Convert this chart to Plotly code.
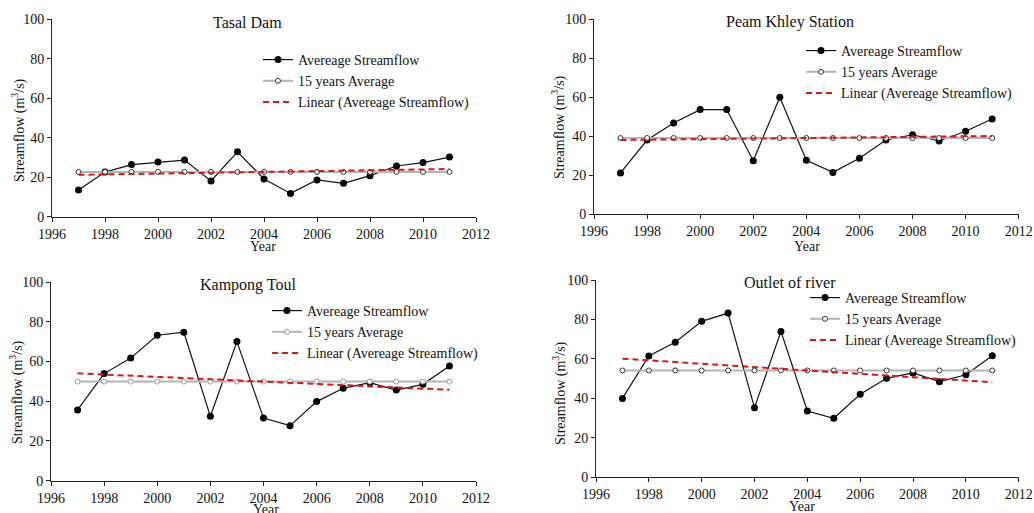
import numpy as np
import plotly.graph_objects as go

# Annual mean streamflow (m³/s), 1997–2011
years = list(range(1997, 2012))

tasal_dam = [13.5, 22.6, 26.4, 27.7, 28.7, 18.1, 32.9, 19.1, 11.8, 18.6, 16.9, 20.8, 25.7, 27.4, 30.2]
peam_khley = [21.2, 38.1, 46.8, 53.7, 53.7, 27.5, 60.0, 27.7, 21.5, 28.7, 38.1, 40.8, 37.6, 42.6, 48.9]
kampong_toul = [35.6, 53.9, 61.7, 73.2, 74.7, 32.4, 70.0, 31.5, 27.7, 39.8, 46.5, 49.3, 45.6, 48.5, 57.7]
outlet_river = [39.9, 61.4, 68.4, 79.0, 83.2, 35.2, 73.9, 33.5, 29.8, 42.0, 50.1, 52.8, 48.4, 51.9, 61.6]

station_names = ["Tasal Dam", "Peam Khley Station", "Kampong Toul", "Outlet of river"]
series_names = ["Avereage Streamflow", "15 years Average", "Linear (Avereage Streamflow)"]
x_ticks = [1996, 1998, 2000, 2002, 2004, 2006, 2008, 2010, 2012]
y_ticks = [0, 20, 40, 60, 80, 100]

W, H = 1034, 513
FONT = "Liberation Serif, Times New Roman, serif"


def fx(px):
    return px / W


def fy(py):
    return 1 - py / H


# panel layout in pixels: plot box (x0, x1, ytop, ybottom), title centre, legend anchor,
# y-title centre, x-title centre, average-marker edge colour
panels = [
    dict(data=tasal_dam, box=(52, 476, 19.3, 216.7), title=(247.5, 22),
         legend=(258, 44), ytitle=(18, 130), xtitle=(263, 247), avg_edge="#333333"),
    dict(data=peam_khley, box=(594, 1018.7, 19.3, 214.3), title=(790, 22),
         legend=(801, 35), ytitle=(559, 127), xtitle=(807, 247), avg_edge="#333333"),
    dict(data=kampong_toul, box=(51, 476, 282, 480.7), title=(247.5, 285),
         legend=(267, 295), ytitle=(16, 392), xtitle=(266, 509), avg_edge="#9a9a9a"),
    dict(data=outlet_river, box=(596, 1018.7, 280, 477), title=(790, 282),
         legend=(805, 282), ytitle=(559, 393), xtitle=(802, 506), avg_edge="#333333"),
]

fig = go.Figure()
annotations = []

for i, p in enumerate(panels):
    n = "" if i == 0 else str(i + 1)
    xa, ya = "x" + n, "y" + n
    leg = "legend" + n
    vals = np.array(p["data"], dtype=float)
    yrs = np.array(years, dtype=float)

    mean_val = vals.mean()
    slope, intercept = np.polyfit(yrs, vals, 1)
    trend = slope * yrs + intercept

    fig.add_trace(go.Scatter(
        x=years, y=p["data"], name=series_names[0], mode="lines+markers",
        line=dict(color="#111111", width=1.2),
        marker=dict(color="#000000", size=7, symbol="circle"),
        xaxis=xa, yaxis=ya, legend=leg))
    fig.add_trace(go.Scatter(
        x=years, y=[mean_val] * len(years), name=series_names[1], mode="lines+markers",
        line=dict(color="#b4b4b4", width=2),
        marker=dict(color="#ffffff", size=5, symbol="circle",
                    line=dict(color=p["avg_edge"], width=1)),
        xaxis=xa, yaxis=ya, legend=leg))
    fig.add_trace(go.Scatter(
        x=years, y=trend, name=series_names[2], mode="lines",
        line=dict(color="#d11a1a", width=2, dash="6px,4px"),
        xaxis=xa, yaxis=ya, legend=leg))

    x0, x1, yt, yb = p["box"]
    axis_common = dict(
        showgrid=False, zeroline=False, showline=True, linecolor="#222222", linewidth=1,
        ticks="outside", ticklen=4, tickcolor="#222222", automargin=False,
        tickfont=dict(family=FONT, size=14, color="#111111"), fixedrange=True)
    fig.update_layout({
        "xaxis" + n: dict(axis_common, domain=[fx(x0), fx(x1)], range=[1996, 2012],
                          tickvals=x_ticks, anchor=ya),
        "yaxis" + n: dict(axis_common, domain=[fy(yb), fy(yt)], range=[0, 100],
                          tickvals=y_ticks, anchor=xa),
        leg: dict(x=fx(p["legend"][0]), y=fy(p["legend"][1]), xanchor="left", yanchor="top",
                  bgcolor="rgba(0,0,0,0)", borderwidth=0, tracegroupgap=0,
                  font=dict(family=FONT, size=14, color="#111111")),
    })

    annotations.append(dict(
        text=station_names[i], x=fx(p["title"][0]), y=fy(p["title"][1]),
        xref="paper", yref="paper", xanchor="center", yanchor="middle", showarrow=False,
        font=dict(family=FONT, size=16, color="#111111")))
    annotations.append(dict(
        text="Streamflow (m<sup>3</sup>/s)", x=fx(p["ytitle"][0]), y=fy(p["ytitle"][1]),
        xref="paper", yref="paper", xanchor="center", yanchor="middle", showarrow=False,
        textangle=-90, font=dict(family=FONT, size=14, color="#111111")))
    annotations.append(dict(
        text="Year", x=fx(p["xtitle"][0]), y=fy(p["xtitle"][1]),
        xref="paper", yref="paper", xanchor="center", yanchor="middle", showarrow=False,
        font=dict(family=FONT, size=14, color="#111111")))

fig.update_layout(
    template="none",
    width=W, height=H, margin=dict(l=0, r=0, t=0, b=0, autoexpand=False),
    paper_bgcolor="white", plot_bgcolor="white",
    showlegend=True, annotations=annotations,
    font=dict(family=FONT, color="#111111"),
)

fig.write_html("out.html", config={"displayModeBar": False})
